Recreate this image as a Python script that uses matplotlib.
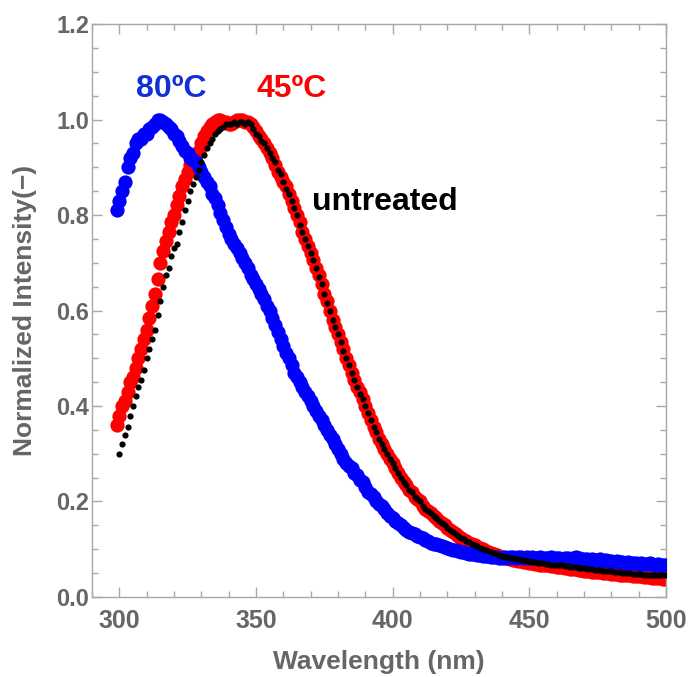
import numpy as np
import matplotlib
matplotlib.use("Agg")
import matplotlib.pyplot as plt
from matplotlib.ticker import MultipleLocator

plt.rcParams['font.family'] = ['Liberation Sans', 'DejaVu Sans']
plt.rcParams['font.weight'] = 'bold'

# emission spectra, 1 nm steps
wl_80 = np.arange(299, 501)
int_80 = [0.81,
          0.83, 0.85, 0.87, 0.90, 0.92, 0.93, 0.95, 0.96, 0.96, 0.97,
          0.97, 0.98, 0.985, 0.99, 1.00, 1.00, 0.995, 0.99, 0.985, 0.98,
          0.97, 0.965, 0.955, 0.945, 0.935, 0.93, 0.92, 0.915, 0.91, 0.90,
          0.89, 0.88, 0.87, 0.86, 0.845, 0.835, 0.82, 0.805, 0.79, 0.775,
          0.76, 0.75, 0.74, 0.73, 0.72, 0.71, 0.70, 0.69, 0.675, 0.665,
          0.655, 0.645, 0.635, 0.625, 0.61, 0.60, 0.585, 0.57, 0.555, 0.54,
          0.525, 0.51, 0.50, 0.485, 0.47, 0.46, 0.45, 0.44, 0.43, 0.42,
          0.41, 0.40, 0.39, 0.38, 0.37, 0.36, 0.35, 0.34, 0.33, 0.32,
          0.31, 0.30, 0.29, 0.28, 0.275, 0.27, 0.26, 0.255, 0.245, 0.24,
          0.23, 0.22, 0.215, 0.21, 0.20, 0.195, 0.19, 0.185, 0.175, 0.17,
          0.165, 0.16, 0.155, 0.15, 0.145, 0.14, 0.137, 0.134, 0.131, 0.128,
          0.125, 0.123, 0.12, 0.117, 0.114, 0.112, 0.11, 0.108, 0.106, 0.104,
          0.102, 0.10, 0.099, 0.098, 0.096, 0.095, 0.094, 0.092, 0.091, 0.09,
          0.089, 0.088, 0.087, 0.086, 0.085, 0.085, 0.084, 0.083, 0.083, 0.082,
          0.082, 0.083, 0.082, 0.084, 0.083, 0.082, 0.084, 0.083, 0.082, 0.083,
          0.082, 0.083, 0.081, 0.082, 0.083, 0.082, 0.081, 0.082, 0.083, 0.081,
          0.082, 0.081, 0.080, 0.082, 0.081, 0.080, 0.082, 0.084, 0.081, 0.080,
          0.079, 0.080, 0.078, 0.079, 0.077, 0.078, 0.079, 0.076, 0.077, 0.075,
          0.076, 0.074, 0.075, 0.073, 0.074, 0.072, 0.073, 0.072, 0.071, 0.072,
          0.070, 0.071, 0.070, 0.069, 0.071, 0.069, 0.068, 0.069, 0.067, 0.068,
          0.067]

wl_45 = np.arange(299, 501)
int_45 = [0.36,
          0.38, 0.40, 0.41, 0.43, 0.45, 0.46, 0.48, 0.50, 0.52, 0.54,
          0.56, 0.585, 0.61, 0.635, 0.665, 0.70, 0.725, 0.745, 0.765, 0.785,
          0.80, 0.82, 0.84, 0.86, 0.875, 0.89, 0.905, 0.915, 0.925, 0.935,
          0.95, 0.965, 0.975, 0.985, 0.99, 0.995, 1.0, 1.0, 0.995, 0.995,
          0.99, 0.99, 0.995, 1.0, 1.0, 1.0, 0.995, 0.995, 0.99, 0.985,
          0.975, 0.965, 0.96, 0.95, 0.94, 0.93, 0.92, 0.905, 0.89, 0.88,
          0.87, 0.86, 0.845, 0.83, 0.815, 0.80, 0.785, 0.765, 0.75, 0.735,
          0.72, 0.705, 0.69, 0.675, 0.655, 0.635, 0.62, 0.60, 0.58, 0.565,
          0.55, 0.535, 0.52, 0.50, 0.485, 0.47, 0.455, 0.44, 0.43, 0.415,
          0.40, 0.385, 0.37, 0.355, 0.345, 0.33, 0.32, 0.31, 0.30, 0.29,
          0.28, 0.27, 0.26, 0.25, 0.24, 0.235, 0.225, 0.22, 0.21, 0.205,
          0.20, 0.19, 0.185, 0.18, 0.175, 0.17, 0.165, 0.16, 0.155, 0.15,
          0.145, 0.14, 0.136, 0.132, 0.128, 0.124, 0.12, 0.117, 0.114, 0.111,
          0.108, 0.105, 0.102, 0.10, 0.097, 0.095, 0.093, 0.09, 0.088, 0.086,
          0.084, 0.082, 0.081, 0.079, 0.078, 0.077, 0.076, 0.075, 0.074, 0.073,
          0.072, 0.071, 0.070, 0.069, 0.068, 0.067, 0.066, 0.066, 0.065, 0.064,
          0.063, 0.062, 0.062, 0.061, 0.060, 0.059, 0.059, 0.058, 0.057, 0.056,
          0.055, 0.055, 0.054, 0.053, 0.053, 0.052, 0.052, 0.051, 0.050, 0.050,
          0.049, 0.048, 0.048, 0.047, 0.047, 0.046, 0.045, 0.045, 0.044, 0.044,
          0.043, 0.043, 0.042, 0.041, 0.041, 0.040, 0.040, 0.039, 0.039, 0.038,
          0.038]

wl_raw = np.arange(300, 501)
int_raw = [0.30, 0.32, 0.34, 0.355, 0.38, 0.40, 0.42, 0.44, 0.455, 0.475,
           0.50, 0.52, 0.54, 0.56, 0.59, 0.62, 0.65, 0.675, 0.69, 0.715,
           0.73, 0.74, 0.765, 0.785, 0.81, 0.83, 0.85, 0.865, 0.88, 0.895,
           0.91, 0.925, 0.94, 0.95, 0.96, 0.97, 0.975, 0.98, 0.985, 0.99,
           0.99, 0.99, 0.995, 0.99, 0.995, 0.995, 0.99, 0.995, 0.99, 0.98,
           0.97, 0.965, 0.955, 0.95, 0.94, 0.93, 0.92, 0.91, 0.895, 0.885,
           0.87, 0.855, 0.845, 0.83, 0.815, 0.80, 0.78, 0.765, 0.75, 0.735,
           0.72, 0.705, 0.69, 0.67, 0.655, 0.635, 0.615, 0.60, 0.58, 0.565,
           0.55, 0.535, 0.515, 0.50, 0.485, 0.47, 0.455, 0.44, 0.425, 0.415,
           0.40, 0.385, 0.37, 0.355, 0.345, 0.33, 0.32, 0.31, 0.30, 0.29,
           0.28, 0.27, 0.26, 0.25, 0.24, 0.235, 0.225, 0.22, 0.21, 0.205,
           0.20, 0.19, 0.185, 0.18, 0.175, 0.17, 0.165, 0.16, 0.155, 0.15,
           0.145, 0.14, 0.136, 0.132, 0.128, 0.124, 0.121, 0.118, 0.115, 0.112,
           0.109, 0.106, 0.103, 0.101, 0.098, 0.096, 0.094, 0.092, 0.090, 0.088,
           0.086, 0.084, 0.083, 0.082, 0.081, 0.080, 0.079, 0.078, 0.077, 0.076,
           0.075, 0.074, 0.073, 0.072, 0.072, 0.071, 0.070, 0.069, 0.068, 0.068,
           0.067, 0.066, 0.066, 0.065, 0.064, 0.063, 0.063, 0.062, 0.061, 0.061,
           0.060, 0.059, 0.059, 0.058, 0.057, 0.057, 0.056, 0.055, 0.055, 0.054,
           0.054, 0.053, 0.052, 0.052, 0.051, 0.051, 0.050, 0.050, 0.049, 0.049,
           0.048, 0.048, 0.047, 0.047, 0.047, 0.046, 0.046, 0.046, 0.045, 0.045,
           0.045]

gray = '#666666'
frame = '#a8a8a8'

fig = plt.figure(figsize=(6.89, 6.77), dpi=100)
ax = fig.add_axes([0.1335, 0.1182, 0.8331, 0.8463])

ax.scatter(wl_45, int_45, s=105, color='#ff0000', linewidths=0, zorder=2)
ax.scatter(wl_80, int_80, s=105, color='#0000ff', linewidths=0, zorder=3)
ax.scatter(wl_raw, int_raw, s=20, color='black', linewidths=0, zorder=4)

ax.text(319, 1.064, '80ºC', color='#1030d8', fontsize=23, fontweight='bold',
        ha='center', va='center')
ax.text(363, 1.064, '45ºC', color='#ff0000', fontsize=23, fontweight='bold',
        ha='center', va='center')
ax.text(370.5, 0.827, 'untreated', color='black', fontsize=23, fontweight='bold',
        ha='left', va='center')

ax.set_xlim(290, 500)
ax.set_ylim(0, 1.2)
ax.xaxis.set_major_locator(MultipleLocator(50))
ax.xaxis.set_minor_locator(MultipleLocator(10))
ax.yaxis.set_major_locator(MultipleLocator(0.2))
ax.yaxis.set_minor_locator(MultipleLocator(0.05))
ax.yaxis.set_major_formatter(matplotlib.ticker.FormatStrFormatter('%.1f'))

for sp in ax.spines.values():
    sp.set_color(frame)
    sp.set_linewidth(1.0)
ax.tick_params(which='both', direction='in', top=True, right=True, color=frame, width=1.0)
ax.tick_params(which='major', length=7)
ax.tick_params(which='minor', length=4)
ax.tick_params(axis='x', labelsize=18, labelcolor=gray, pad=9)
ax.tick_params(axis='y', labelsize=17, labelcolor=gray, pad=2)

ax.set_xlabel('Wavelength (nm)', fontsize=19, color=gray, fontweight='bold')
ax.set_ylabel('Normalized Intensity(\u2212)', fontsize=19, color=gray, fontweight='bold')
ax.xaxis.set_label_coords(0.5, -0.092)
ax.yaxis.set_label_coords(-0.096, 0.5)

fig.savefig('out.png', dpi=100)
